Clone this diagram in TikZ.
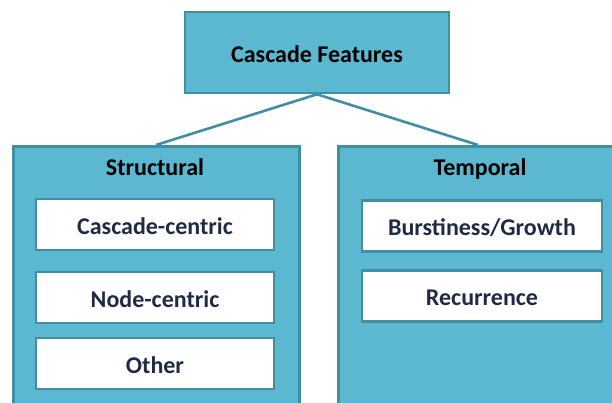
\documentclass[tikz,border=0pt]{standalone}
\usepackage{fontspec}
\setmainfont{Carlito}
\definecolor{boxfill}{HTML}{5BB8D0}
\definecolor{boxline}{HTML}{3F8EA2}
\definecolor{itemtext}{HTML}{1F2B45}
\begin{document}
\begin{tikzpicture}[x=1pt,y=-1pt,
  catbox/.style={draw=boxline,fill=boxfill,line width=2.6pt,inner sep=0pt},
  itembox/.style={draw=boxline,fill=white,line width=2.2pt,inner sep=0pt,
    minimum height=51pt,text height=19pt,text depth=0pt,
    font=\bfseries\fontsize{24}{28}\selectfont,text=itemtext},
  cattitle/.style={anchor=base,inner sep=0pt,font=\bfseries\fontsize{24}{28}\selectfont,text=black},
  link/.style={draw=boxline,line width=2.6pt}]
  \useasboundingbox (0,0) rectangle (612,403);
  \clip (0,0) rectangle (612,403);
  % root
  \node[catbox,minimum width=264pt,minimum height=81pt,text height=20pt,text depth=0pt,
        font=\bfseries\fontsize{24}{28}\selectfont] (root) at (317,52.5) {Cascade Features};
  % category containers (run off the lower edge)
  \node[catbox,minimum width=286pt,minimum height=280pt,anchor=north west] (struct) at (12,145) {};
  \node[catbox,minimum width=290pt,minimum height=280pt,anchor=north west] (temp) at (337,145) {};
  \coordinate (structtop) at (156,145);
  \coordinate (temptop) at (478,145);
  \draw[link] (root.south) -- (structtop);
  \draw[link] (root.south) -- (temptop);
  % titles
  \node[cattitle] (structtitle) at (155,176) {Structural};
  \node[cattitle] (temptitle) at (480,176) {Temporal};
  % structural items
  \node[itembox,minimum width=238pt] (cc) at (155,224.5) {Cascade-centric};
  \node[itembox,minimum width=238pt] (nc) at (155,297.5) {Node-centric};
  \node[itembox,minimum width=238pt] (oth) at (155,363.5) {Other};
  % temporal items
  \node[itembox,minimum width=240pt] (bg) at (482,226) {Burstiness/Growth};
  \node[itembox,minimum width=240pt] (rec) at (482,296) {Recurrence};
\end{tikzpicture}
\end{document}
